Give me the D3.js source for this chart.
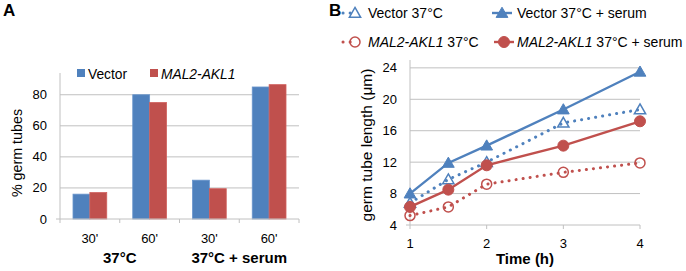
<!DOCTYPE html>
<html>
<head>
<meta charset="utf-8">
<script src="https://cdn.jsdelivr.net/npm/d3@7"></script>
<style>
body { margin: 0; background: #fff; }
text { font-family: "Liberation Sans", Arial, sans-serif; }
</style>
</head>
<body>
<script>
// panel A data
let groups = ["37°C", "37°C + serum"];
let times = ["30'", "60'", "30'", "60'"];
let seriesA = ["Vector", "MAL2-AKL1"];
let vectorPct = [16, 80, 25, 85];
let malPct = [17, 75, 19.5, 86.5];
let ticksA = [0, 20, 40, 60, 80];

// panel B data
let hours = [1, 1.5, 2, 3, 4];
let vec37 = [6.8, 9.8, 12.0, 17.0, 18.7];
let vecSerum = [8.0, 11.9, 14.1, 18.7, 23.5];
let mal37 = [5.2, 6.3, 9.2, 10.7, 11.9];
let malSerum = [6.3, 8.5, 11.6, 14.1, 17.2];
let ticksB = [4, 8, 12, 16, 20, 24];
let ticksX = [1, 2, 3, 4];

let blue = "#4f81bd", red = "#c0504d", grid = "#c0c0c0";
let calibri = "Lato, 'Open Sans', sans-serif";

let svg = d3.select("body").append("svg").attr("width", 686).attr("height", 271);

// ---------- panel A ----------
svg.append("text").attr("x", 3).attr("y", 16).attr("font-size", 17).attr("font-weight", "bold").text("A");

let cats = d3.range(times.length);
let x0 = d3.scaleBand().domain(cats).range([60, 299]).paddingInner(0);
let x1 = d3.scaleBand().domain(seriesA).range([0, x0.bandwidth()]).paddingOuter(0.77);
let yA = d3.scaleLinear().domain([0, 94]).range([219, 73]);

svg.append("g").selectAll("line")
  .data(ticksA.slice(1))
  .enter().append("line")
    .attr("x1", 60).attr("x2", 299)
    .attr("y1", d => yA(d)).attr("y2", d => yA(d))
    .attr("stroke", grid).attr("stroke-width", 1);

svg.append("line").attr("x1", 60).attr("x2", 60).attr("y1", 73).attr("y2", 219)
  .attr("stroke", grid);

let barData = [];
cats.forEach(i => {
  barData.push({c: i, s: "Vector", v: vectorPct[i]});
  barData.push({c: i, s: "MAL2-AKL1", v: malPct[i]});
});
svg.selectAll("rect.bar")
  .data(barData)
  .enter().append("rect")
    .attr("class", "bar")
    .attr("x", d => x0(d.c) + x1(d.s))
    .attr("width", x1.bandwidth())
    .attr("y", d => yA(d.v))
    .attr("height", d => yA(0) - yA(d.v))
    .attr("fill", d => d.s == "Vector" ? blue : red)
    .attr("stroke", d => d.s == "Vector" ? "#6a95cc" : "#d0605d")
    .attr("stroke-width", 0.8);

// x axis of A
let axA = svg.append("g").attr("transform", "translate(0,219)");
axA.append("line").attr("x1", 56).attr("x2", 299).attr("stroke", grid);
axA.selectAll("line.tk")
  .data(d3.range(times.length + 1))
  .enter().append("line")
    .attr("class", "tk")
    .attr("x1", d => 60 + d * x0.step()).attr("x2", d => 60 + d * x0.step())
    .attr("y1", 0).attr("y2", 4).attr("stroke", grid);

svg.selectAll("text.ya")
  .data(ticksA)
  .enter().append("text")
    .attr("class", "ya")
    .attr("x", 47).attr("y", d => yA(d))
    .attr("text-anchor", "end").attr("dominant-baseline", "central")
    .attr("font-size", 13).text(d => d);

svg.selectAll("text.xa")
  .data(times)
  .enter().append("text")
    .attr("class", "xa")
    .attr("x", (d, i) => x0(i) + x0.bandwidth() / 2).attr("y", 238)
    .attr("text-anchor", "middle").attr("dominant-baseline", "central")
    .attr("font-family", calibri).attr("font-size", 13).text(d => d);

svg.selectAll("text.grp")
  .data(groups)
  .enter().append("text")
    .attr("class", "grp")
    .attr("x", (d, i) => x0(i * 2) + x0.step()).attr("y", 257)
    .attr("text-anchor", "middle").attr("dominant-baseline", "central")
    .attr("font-family", calibri).attr("font-size", 15).attr("font-weight", "bold").text(d => d);

svg.append("text")
  .attr("transform", "translate(17,153) rotate(-90)")
  .attr("text-anchor", "middle").attr("dominant-baseline", "central")
  .attr("font-size", 14.3).text("% germ tubes");

// legend A
let legA = [{s: "Vector", x: 77, c: blue, it: false}, {s: "MAL2-AKL1", x: 150, c: red, it: true}];
svg.selectAll("rect.lgA")
  .data(legA)
  .enter().append("rect")
    .attr("class", "lgA")
    .attr("x", d => d.x).attr("y", 69).attr("width", 8).attr("height", 8)
    .attr("fill", d => d.c);
svg.selectAll("text.lgA")
  .data(legA)
  .enter().append("text")
    .attr("class", "lgA")
    .attr("x", d => d.x + 11).attr("y", 74)
    .attr("dominant-baseline", "central").attr("font-size", 13.8)
    .attr("font-style", d => d.it ? "italic" : "normal")
    .text(d => d.s);

// ---------- panel B ----------
svg.append("text").attr("x", 329).attr("y", 16).attr("font-size", 17).attr("font-weight", "bold").text("B");

let xB = d3.scaleLinear().domain([1, 4]).range([410, 640]);
let yB = d3.scaleLinear().domain([4, 25]).range([225, 60]);

svg.append("g").selectAll("line")
  .data(ticksB.slice(1))
  .enter().append("line")
    .attr("x1", 410).attr("x2", 640)
    .attr("y1", d => yB(d)).attr("y2", d => yB(d))
    .attr("stroke", grid);
svg.append("line").attr("x1", 410).attr("x2", 410).attr("y1", 60).attr("y2", 225).attr("stroke", grid);
svg.append("line").attr("x1", 406).attr("x2", 640).attr("y1", 225).attr("y2", 225).attr("stroke", grid);
svg.selectAll("line.tkB")
  .data(ticksX)
  .enter().append("line")
    .attr("class", "tkB")
    .attr("x1", d => xB(d)).attr("x2", d => xB(d))
    .attr("y1", 225).attr("y2", 229).attr("stroke", grid);

svg.selectAll("text.yb")
  .data(ticksB)
  .enter().append("text")
    .attr("class", "yb")
    .attr("x", 397).attr("y", d => yB(d))
    .attr("text-anchor", "end").attr("dominant-baseline", "central")
    .attr("font-family", calibri).attr("font-size", 13).text(d => d);
svg.selectAll("text.xb")
  .data(ticksX)
  .enter().append("text")
    .attr("class", "xb")
    .attr("x", d => xB(d)).attr("y", 243)
    .attr("text-anchor", "middle").attr("dominant-baseline", "central")
    .attr("font-family", calibri).attr("font-size", 13).text(d => d);
svg.append("text")
  .attr("x", 525).attr("y", 258)
  .attr("text-anchor", "middle").attr("dominant-baseline", "central")
  .attr("font-family", calibri).attr("font-size", 15).attr("font-weight", "bold").text("Time (h)");
svg.append("text")
  .attr("transform", "translate(366,145) rotate(-90)")
  .attr("text-anchor", "middle").attr("dominant-baseline", "central")
  .attr("font-size", 15.5).text("germ tube length (\u03bcm)");

let seriesB = [
  {name: "Vector 37°C", vals: vec37, c: blue, dot: true, mk: "tri", fill: false},
  {name: "Vector 37°C + serum", vals: vecSerum, c: blue, dot: false, mk: "tri", fill: true},
  {name: "MAL2-AKL1 37°C", vals: mal37, c: red, dot: true, mk: "circ", fill: false},
  {name: "MAL2-AKL1 37°C + serum", vals: malSerum, c: red, dot: false, mk: "circ", fill: true}
];

let line = d3.line().x((d, i) => xB(hours[i])).y(d => yB(d));

function marker(g, s, cx, cy) {
  if (s.mk == "tri") {
    g.append("path")
      .attr("d", d3.symbol().type(d3.symbolTriangle).size(s.fill ? 60 : 55)())
      .attr("transform", `translate(${cx},${cy + 1})`)
      .attr("fill", s.fill ? s.c : "none").attr("stroke", s.c).attr("stroke-width", s.fill ? 1 : 1.5);
  } else {
    g.append("circle").attr("cx", cx).attr("cy", cy).attr("r", s.fill ? 5.5 : 5)
      .attr("fill", s.fill ? s.c : "none").attr("stroke", s.c).attr("stroke-width", s.fill ? 1 : 1.5);
  }
}

seriesB.forEach(s => {
  let g = svg.append("g");
  g.append("path")
    .attr("d", line(s.vals))
    .attr("fill", "none").attr("stroke", s.c)
    .attr("stroke-width", s.dot ? 3 : 2.4)
    .attr("stroke-linecap", s.dot ? "round" : "butt")
    .attr("stroke-dasharray", s.dot ? "0.1,7" : null);
  s.vals.forEach((v, i) => marker(g, s, xB(hours[i]), yB(v)));
});

// legend B
let legPos = [[343, 13], [492, 13], [343, 42], [494, 42]];
seriesB.forEach((s, i) => {
  let [lx, ly] = legPos[i];
  let g = svg.append("g");
  let w = s.dot ? 14 : 20;
  g.append("line").attr("x1", lx).attr("x2", lx + w).attr("y1", ly).attr("y2", ly)
    .attr("stroke", s.c).attr("stroke-width", s.dot ? 3 : 2.4)
    .attr("stroke-linecap", s.dot ? "round" : "butt")
    .attr("stroke-dasharray", s.dot ? "0.1,7" : null);
  let mx = s.dot ? lx + 12 : lx + 10;
  marker(g, s, mx, ly);
  let t = g.append("text").attr("x", s.dot ? 368 : 517).attr("y", ly)
    .attr("dominant-baseline", "central").attr("font-size", 14);
  if (s.name.startsWith("MAL2")) {
    t.append("tspan").attr("font-style", "italic").text("MAL2-AKL1");
    t.append("tspan").text(s.name.slice(9));
  } else {
    t.text(s.name);
  }
});
</script>
</body>
</html>
